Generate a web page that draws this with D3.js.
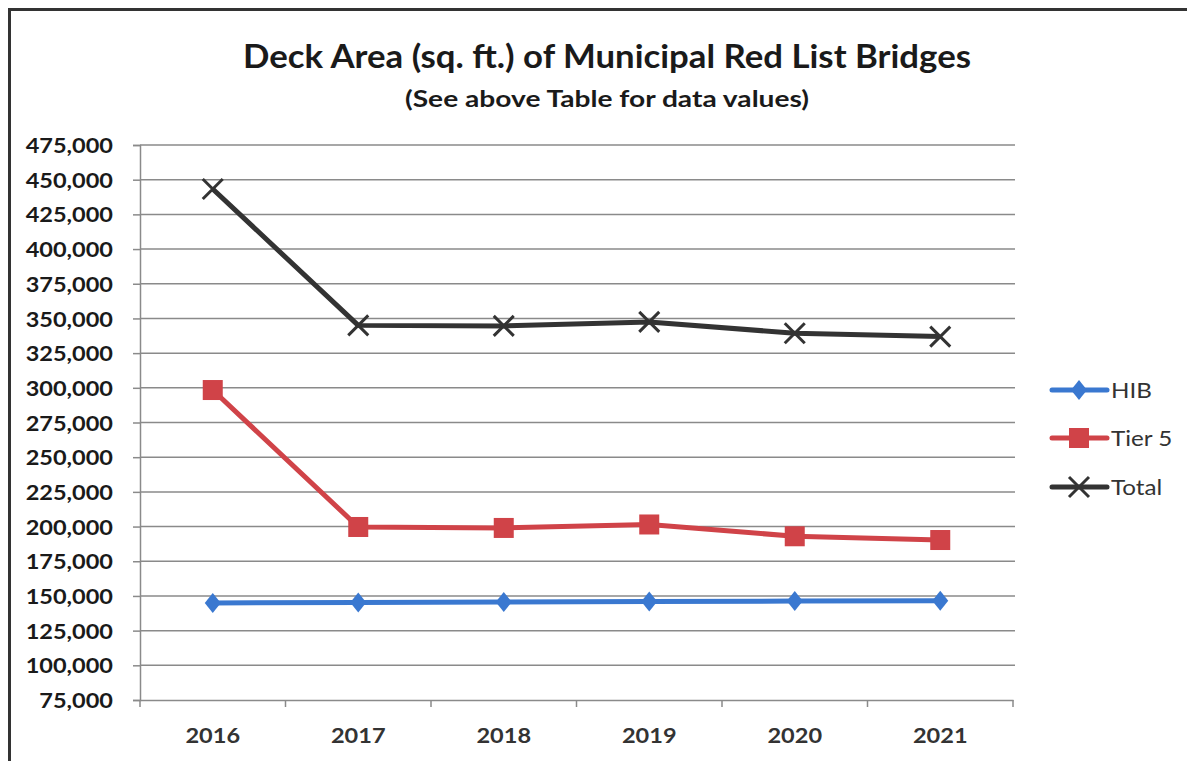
<!DOCTYPE html>
<html>
<head>
<meta charset="utf-8">
<script src="https://cdn.jsdelivr.net/npm/d3@7"></script>
<style>
  html, body { margin: 0; padding: 0; background: #fff; }
  svg { display: block; }
</style>
</head>
<body>
<svg id="chart" width="1187" height="761"></svg>
<script>
const years = ["2016", "2017", "2018", "2019", "2020", "2021"];
const hib   = [144900, 145300, 145600, 146000, 146300, 146600];
const tier5 = [298400, 199700, 199000, 201500, 193000, 190300];
const total = [443300, 345000, 344600, 347500, 339300, 336900];
const yTicks = [75000, 100000, 125000, 150000, 175000, 200000, 225000, 250000,
                275000, 300000, 325000, 350000, 375000, 400000, 425000, 450000, 475000];
const seriesNames = ["HIB", "Tier 5", "Total"];
const titleText = "Deck Area (sq. ft.) of Municipal Red List Bridges";
const subtitleText = "(See above Table for data values)";

(function () {
const svg = d3.select("#chart");
const fontStack = "Lato, 'Open Sans', 'DejaVu Sans', sans-serif";

function stretch(sel, factor) {
  sel.each(function () {
    const w = this.getComputedTextLength();
    d3.select(this).attr("textLength", w * factor).attr("lengthAdjust", "spacingAndGlyphs");
  });
}

// frame
svg.append("path").attr("d", "M9.5,761 L9.5,9.5 L1187,9.5")
  .attr("fill", "none").attr("stroke", "#333").attr("stroke-width", 3);

const pLeft = 140, pRight = 1013, pTop = 145, pBottom = 700;
const x = d3.scaleBand().domain(years).range([pLeft, pRight]);
const y = d3.scaleLinear().domain([75000, 475000]).range([pBottom, pTop]);

// title
svg.append("text").attr("x", 607).attr("y", 68).attr("text-anchor", "middle")
  .attr("font-family", fontStack).attr("font-weight", "bold").attr("font-size", 32)
  .attr("fill", "#1a1a1a").attr("textLength", 728).attr("lengthAdjust", "spacingAndGlyphs")
  .text(titleText);
svg.append("text").attr("x", 607).attr("y", 107).attr("text-anchor", "middle")
  .attr("font-family", fontStack).attr("font-weight", "bold").attr("font-size", 22)
  .attr("fill", "#1a1a1a").attr("textLength", 404).attr("lengthAdjust", "spacingAndGlyphs")
  .text(subtitleText);

// gridlines
svg.append("g").selectAll("line").data(yTicks.slice(1)).join("line")
  .attr("x1", pLeft).attr("x2", pRight + 2)
  .attr("y1", d => y(d)).attr("y2", d => y(d))
  .attr("stroke", "#8a8a8a").attr("stroke-width", 1.5);

// y axis
const yAxis = d3.axisLeft(y).tickValues(yTicks).tickSize(7).tickPadding(20)
  .tickFormat(d3.format(","));
const gy = svg.append("g").attr("transform", `translate(${pLeft},0)`).call(yAxis);
gy.select(".domain").attr("stroke", "#8a8a8a").attr("stroke-width", 1.5);
gy.selectAll(".tick line").attr("stroke", "#8a8a8a").attr("stroke-width", 1.5);
gy.selectAll(".tick text").attr("font-family", fontStack).attr("font-weight", "bold")
  .attr("font-size", 21).attr("fill", "#1a1a1a").attr("dy", "0.36em")
  .call(stretch, 1.12);

// x axis
const xAxis = d3.axisBottom(x).tickSize(0).tickPadding(28);
const gx = svg.append("g").attr("transform", `translate(0,${pBottom})`).call(xAxis);
gx.select(".domain").attr("stroke", "#8a8a8a").attr("stroke-width", 1.5);
gx.selectAll(".tick text").attr("font-family", fontStack).attr("font-weight", "bold")
  .attr("font-size", 21).attr("fill", "#333").attr("dy", "0.71em")
  .call(stretch, 1.12);
const edges = years.map(d => x(d)).concat([pRight]);
gx.append("g").selectAll("line").data(edges).join("line")
  .attr("x1", d => d).attr("x2", d => d).attr("y1", 0).attr("y2", 7)
  .attr("stroke", "#8a8a8a").attr("stroke-width", 1.5);

const cx = d => x(d) + x.bandwidth() / 2;
const lineGen = d3.line().x(d => cx(d[0])).y(d => y(d[1]));

const series = [
  { name: seriesNames[0], values: hib, color: "#3a78d0", marker: "diamond" },
  { name: seriesNames[1], values: tier5, color: "#d04348", marker: "square" },
  { name: seriesNames[2], values: total, color: "#333333", marker: "x" }
];

function drawMarker(g, type, color) {
  if (type === "diamond") {
    g.append("path").attr("d", "M0,-10 L8,0 L0,10 L-8,0 Z").attr("fill", color);
  } else if (type === "square") {
    g.append("rect").attr("x", -10).attr("y", -10).attr("width", 20).attr("height", 20)
      .attr("fill", color);
  } else {
    g.append("path").attr("d", "M-10,-10 L10,10 M-10,10 L10,-10")
      .attr("stroke", color).attr("stroke-width", 3).attr("fill", "none");
  }
}

series.forEach(s => {
  const pts = years.map((yr, i) => [yr, s.values[i]]);
  svg.append("path").datum(pts).attr("d", lineGen)
    .attr("fill", "none").attr("stroke", s.color).attr("stroke-width", 5)
    .attr("stroke-linejoin", "round");
  const mg = svg.append("g");
  pts.forEach(p => {
    const g = mg.append("g").attr("transform", `translate(${cx(p[0])},${y(p[1])})`);
    drawMarker(g, s.marker, s.color);
  });
});

// legend
const legendY = [390, 438, 487];
series.forEach((s, i) => {
  const g = svg.append("g").attr("transform", `translate(0,${legendY[i]})`);
  g.append("line").attr("x1", 1052).attr("x2", 1107).attr("y1", 0).attr("y2", 0)
    .attr("stroke", s.color).attr("stroke-width", 5).attr("stroke-linecap", "round");
  const mg = g.append("g").attr("transform", "translate(1079,0)");
  drawMarker(mg, s.marker, s.color);
  g.append("text").attr("x", 1111).attr("y", 0).attr("dy", "0.36em")
    .attr("font-family", fontStack).attr("font-size", 22).attr("fill", "#333")
    .text(s.name).call(stretch, 1.1);
});
})();
</script>
</body>
</html>
